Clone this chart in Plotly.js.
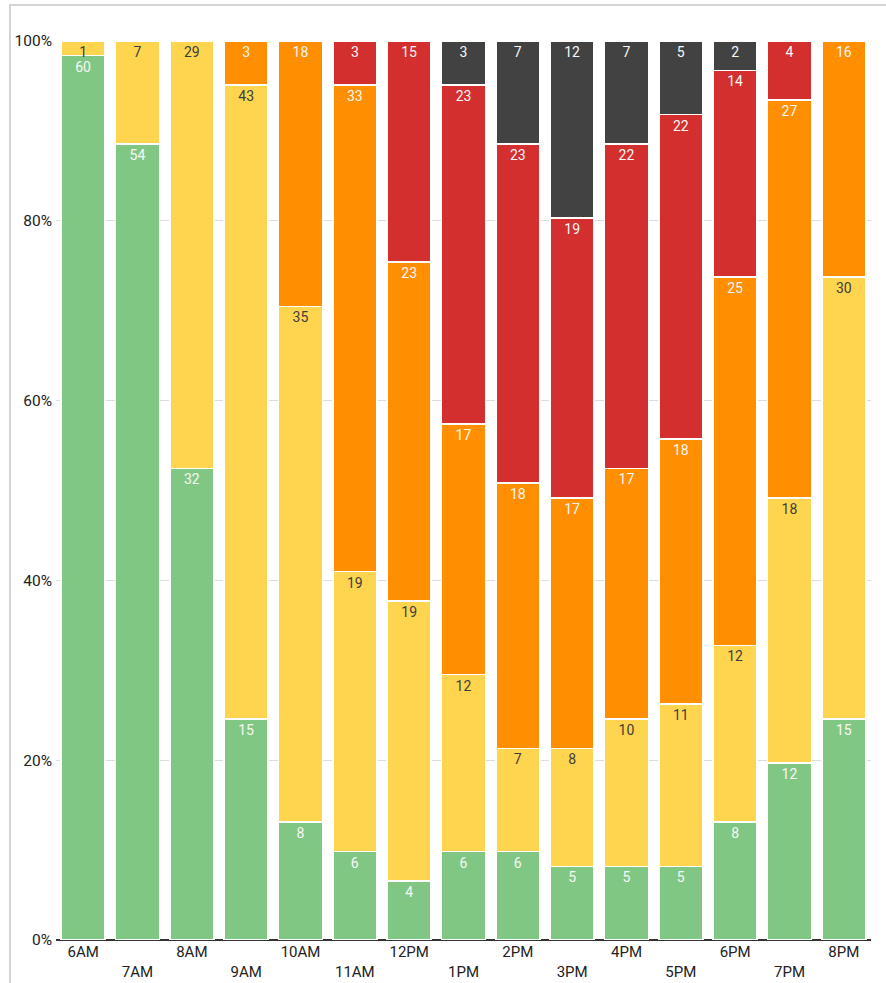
<!DOCTYPE html>
<html>
<head>
<meta charset="utf-8">
<script src="https://cdn.plot.ly/plotly-3.0.1.min.js"></script>
<style>
  html, body { margin: 0; padding: 0; background: #fff; }
  #wrap { position: relative; width: 886px; height: 983px; }
  #chart { width: 886px; height: 983px; }
  #frame {
    position: absolute; left: 9px; top: 4px; right: -4px; bottom: -4px;
    border-left: 2px solid #d4d4d4; border-top: 2px solid #d4d4d4;
    pointer-events: none;
  }
</style>
</head>
<body>
<div id="wrap">
  <div id="chart"></div>
  <div id="frame"></div>
</div>
<script>
// Hourly counts per level, stacked to 100% per hour
const hours  = ['6AM','7AM','8AM','9AM','10AM','11AM','12PM','1PM','2PM','3PM','4PM','5PM','6PM','7PM','8PM'];
const green  = [60, 54, 32, 15,  8,  6,  4,  6,  6,  5,  5,  5,  8, 12, 15];
const yellow = [ 1,  7, 29, 43, 35, 19, 19, 12,  7,  8, 10, 11, 12, 18, 30];
const orange = [null, null, null, 3, 18, 33, 23, 17, 18, 17, 17, 18, 25, 27, 16];
const red    = [null, null, null, null, null, 3, 15, 23, 23, 19, 22, 22, 14, 4, null];
const dark   = [null, null, null, null, null, null, null, 3, 7, 12, 7, 5, 2, null, null];

function series(name, values, fill, labelColor) {
  return {
    type: 'bar',
    name: name,
    x: hours,
    y: values,
    text: values.map(v => (v == null ? '' : String(v))),
    textposition: 'inside',
    insidetextanchor: 'end',
    textangle: 0,
    constraintext: 'none',
    cliponaxis: false,
    textfont: { family: 'Roboto, sans-serif', size: 14, color: labelColor },
    marker: { color: fill, line: { color: '#ffffff', width: 1.5 } },
    hoverinfo: 'skip'
  };
}

const traces = [
  series('green',  green,  '#81c784', '#f7f7f7'),
  series('yellow', yellow, '#ffd54f', '#3d3d3d'),
  series('orange', orange, '#ff8f00', '#f7f7f7'),
  series('red',    red,    '#d32f2f', '#f7f7f7'),
  series('dark',   dark,   '#424242', '#f7f7f7')
];

// Alternate hour labels on two rows so they don't collide
const tickLabels = hours.map((h, i) => (i % 2 ? '<br>' + h : h));

const layout = {
  width: 886,
  height: 983,
  margin: { l: 56, r: 15, t: 41, b: 43 },
  barmode: 'stack',
  barnorm: 'percent',
  bargap: 0.19,
  showlegend: false,
  paper_bgcolor: '#ffffff',
  plot_bgcolor: '#ffffff',
  font: { family: 'Roboto, sans-serif', size: 15, color: '#222222' },
  xaxis: {
    type: 'category',
    tickmode: 'array',
    tickvals: hours,
    ticktext: tickLabels,
    ticks: '',
    showgrid: false,
    showline: false,
    zeroline: false,
    ticklabelstandoff: 1,
    tickfont: { family: 'Roboto, sans-serif', size: 15, color: '#222222' }
  },
  yaxis: {
    range: [0, 100],
    dtick: 20,
    ticksuffix: '%',
    showgrid: true,
    gridcolor: '#dcdcdc',
    gridwidth: 1,
    zeroline: true,
    zerolinecolor: '#333333',
    zerolinewidth: 1.5,
    ticks: '',
    ticklabelstandoff: 3,
    tickfont: { family: 'Roboto, sans-serif', size: 15.5, color: '#222222' },
    fixedrange: true
  }
};

Plotly.newPlot('chart', traces, layout, { displayModeBar: false, staticPlot: true });
</script>
</body>
</html>
